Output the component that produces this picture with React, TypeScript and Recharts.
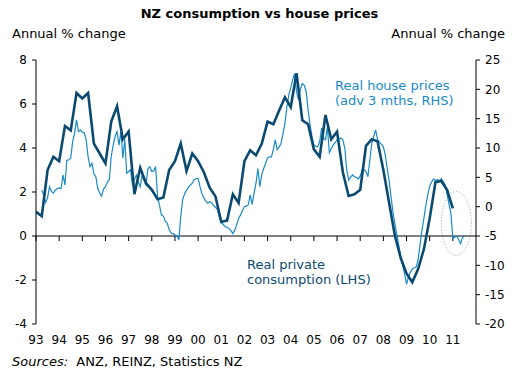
import { LineChart, Line, XAxis, YAxis, ReferenceLine, ReferenceArea } from 'recharts';

// year ticks on the x axis
const years = [1993, 1994, 1995, 1996, 1997, 1998, 1999, 2000, 2001, 2002, 2003, 2004, 2005, 2006, 2007, 2008, 2009, 2010, 2011];

// real private consumption, annual % change, quarterly from 1993 Q1 (LHS)
const consumption = [
  1.1, 0.9, 3.0, 3.6, 3.4, 5.0, 4.8, 6.5, 6.25, 6.5,
  4.2, 3.75, 3.3, 5.2, 5.9, 4.4, 4.75, 1.9, 3.1, 2.4,
  2.1, 1.67, 1.75, 3.0, 3.4, 4.2, 2.95, 3.75, 3.4, 2.9,
  2.2, 1.8, 0.65, 0.7, 1.9, 1.5, 3.4, 3.9, 3.67, 4.2,
  5.2, 5.08, 5.7, 6.3, 5.86, 7.4, 5.26, 5.08, 3.94, 3.6,
  5.5, 4.4, 4.74, 2.9, 1.82, 1.9, 2.1, 4.1, 4.4, 4.3,
  3.0, 1.5, 0.0, -1.0, -1.7, -2.1, -1.5, -0.6, 0.8, 2.45,
  2.5, 2.1, 1.26,
];

// real house prices, annual % change, monthly, advanced 3 months (starts Apr 1993, RHS)
const housePrices = [
  2.8, 2.0, 0.7, 1.5, 3.4, 2.6, 2.3, 2.8, 3.1, 3.2,
  3.1, 5.4, 3.7, 7.9, 8.0, 8.3, 11.1, 12.5, 14.8, 12.8,
  13.1, 12.7, 12.6, 11.4, 8.5, 6.8, 7.4, 5.6, 5.1, 3.1,
  2.3, 1.8, 3.0, 3.4, 4.2, 4.6, 8.6, 10.5, 12.0, 12.8,
  10.5, 12.8, 8.3, 11.5, 5.7, 6.0, 6.3, 3.7, 4.6, 5.4,
  4.2, 3.4, 5.4, 4.5, 3.7, 6.5, 6.8, 6.0, 6.1, 6.8,
  1.7, 0.2, -1.4, -1.6, -2.5, -2.8, -3.9, -4.5, -4.6, -4.8,
  -4.9, -5.7, -1.7, 1.2, 2.2, 2.8, 3.3, 3.7, 4.0, 4.6,
  4.8, 4.8, 3.4, 2.2, 1.5, 0.9, 0.6, 0.85, 0.7, 0.2,
  -0.1, -0.5, -1.8, -2.8, -3.0, -3.4, -3.5, -3.7, -4.1, -4.6,
  -4.0, -3.1, -2.0, -1.4, -0.6, 0.0, 0.1, 0.3, 2.0, 0.4,
  2.3, 4.0, 6.5, 3.4, 5.5, 6.5, 7.4, 8.3, 8.5, 8.5,
  9.8, 11.4, 9.7, 10.2, 10.8, 12.5, 14.2, 17.0, 19.0, 20.3,
  21.6, 22.7, 19.6, 18.2, 20.0, 21.0, 20.7, 19.6, 16.5, 14.0,
  12.0, 10.5, 10.3, 10.2, 11.1, 13.4, 11.6, 11.4, 13.6, 9.2,
  9.9, 10.5, 10.9, 11.4, 11.5, 11.7, 11.4, 10.0, 6.3, 4.5,
  5.0, 5.4, 5.1, 5.0, 4.7, 5.2, 6.25, 6.3, 6.0, 5.1,
  8.0, 10.8, 12.0, 13.1, 11.4, 11.0, 10.6, 10.2, 8.8, 6.5,
  4.4, 1.6, -1.0, -3.0, -4.8, -6.6, -8.5, -10.0, -11.4, -13.2,
  -12.0, -11.2, -10.6, -10.4, -10.3, -9.0, -6.5, -4.0, -2.0, 0.2,
  2.0, 3.5, 4.2, 4.7, 4.5, 4.6, 4.4, 4.8, 4.3, 3.7,
  2.2, 0.4, -1.1, -5.4, -5.2, -5.0, -5.6, -6.3, -5.3, -5.0,
];

const leftTicks = [-4, -2, 0, 2, 4, 6, 8];
const rightTicks = [-20, -15, -10, -5, 0, 5, 10, 15, 20, 25];

const DARK = '#0b4a70';
const LIGHT = '#1a8ac8';
const FONT = '"DejaVu Sans", Verdana, sans-serif';

const consData = consumption.map((v, i) => ({ t: 1993 + i / 4, v }));
const houseData = housePrices.map((v, i) => ({ t: 1993 + (i + 3) / 12, v }));

const Ellipse = (props: any) => {
  const { x, y, width, height } = props;
  return (
    <ellipse
      cx={x + width / 2}
      cy={y + height / 2}
      rx={width / 2}
      ry={height / 2}
      fill="none"
      stroke="#9a9a9a"
      strokeWidth={1}
      strokeDasharray="1 2"
    />
  );
};

const label = (style: React.CSSProperties): React.CSSProperties => ({
  position: 'absolute',
  fontFamily: FONT,
  fontSize: 13,
  lineHeight: '15px',
  whiteSpace: 'nowrap',
  ...style,
});

export default function App() {
  return (
    <div style={{ position: 'absolute', left: 0, top: 0, width: 519, height: 377, background: '#fff' }}>
      <LineChart
        width={519}
        height={377}
        margin={{ top: 60, right: 0, bottom: 0, left: 0 }}
        style={{ fontFamily: FONT }}
      >
        <XAxis
          dataKey="t"
          type="number"
          domain={[1993, 2012]}
          ticks={years}
          allowDataOverflow
          axisLine={false}
          tickLine={false}
          height={53}
          tickSize={6}
          tickMargin={5}
          tick={{ fill: '#000', fontSize: 12 }}
          tickFormatter={(v: number) => String(v % 100).padStart(2, '0')}
        />
        <YAxis
          yAxisId="left"
          domain={[-4, 8]}
          ticks={leftTicks}
          width={36}
          tickSize={4}
          tickMargin={5}
          axisLine={{ stroke: '#000' }}
          tickLine={{ stroke: '#000' }}
          tick={{ fill: '#000', fontSize: 12 }}
        />
        <YAxis
          yAxisId="right"
          orientation="right"
          domain={[-20, 25]}
          ticks={rightTicks}
          width={43}
          tickSize={4}
          tickMargin={5}
          axisLine={{ stroke: '#000' }}
          tickLine={{ stroke: '#000' }}
          tick={{ fill: '#000', fontSize: 12 }}
        />
        <ReferenceLine yAxisId="left" y={0} stroke="#000" strokeWidth={1} />
        {years.map((yr) => (
          <ReferenceLine
            key={yr}
            yAxisId="left"
            segment={[{ x: yr, y: 0 }, { x: yr, y: -0.23 }]}
            stroke="#000"
            strokeWidth={1}
          />
        ))}
        <Line
          yAxisId="right"
          data={houseData}
          dataKey="v"
          stroke={LIGHT}
          strokeWidth={1.2}
          dot={false}
          type="linear"
          isAnimationActive={false}
        />
        <Line
          yAxisId="left"
          data={consData}
          dataKey="v"
          stroke={DARK}
          strokeWidth={2.6}
          dot={false}
          type="linear"
          isAnimationActive={false}
        />
        <ReferenceArea
          yAxisId="right"
          x1={2010.5}
          x2={2011.8}
          y1={-8.3}
          y2={2.6}
          shape={<Ellipse />}
        />
      </LineChart>

      <div style={label({ left: 0, width: 519, top: 6, textAlign: 'center', fontWeight: 'bold' })}>
        NZ consumption vs house prices
      </div>
      <div style={label({ left: 12, top: 26 })}>Annual % change</div>
      <div style={label({ right: 14, top: 26 })}>Annual % change</div>
      <div style={label({ left: 335, top: 78, color: LIGHT })}>
        Real house prices
        <br />
        (adv 3 mths, RHS)
      </div>
      <div style={label({ left: 247, top: 257, color: DARK })}>
        Real private
        <br />
        consumption (LHS)
      </div>
      <div style={label({ left: 12, top: 354 })}>
        <i>Sources:</i>&nbsp; ANZ, REINZ, Statistics NZ
      </div>
    </div>
  );
}
